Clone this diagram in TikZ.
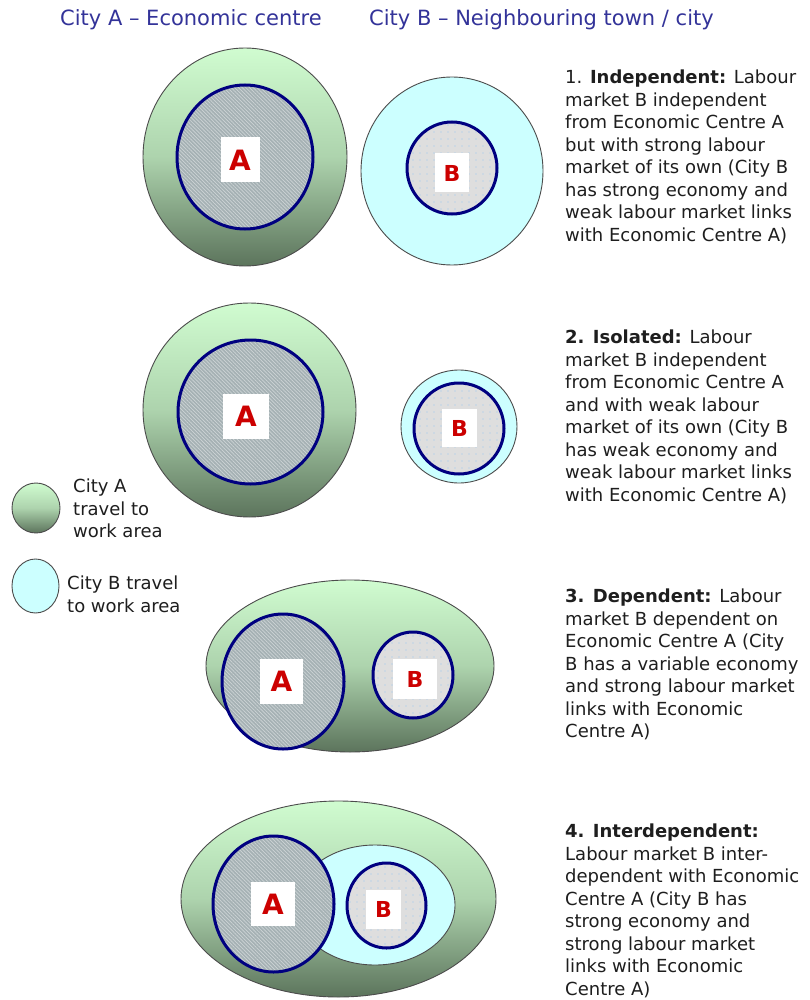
\documentclass[tikz,border=0pt]{standalone}
\usepackage{fontspec}
\setmainfont{DejaVu Sans}
\usetikzlibrary{patterns.meta}
\definecolor{gtop}{RGB}{208,252,208}
\definecolor{gbot}{RGB}{92,116,92}
\definecolor{cyanfill}{RGB}{204,255,255}
\definecolor{navyb}{RGB}{0,0,128}
\definecolor{hatchbg}{RGB}{165,177,180}
\definecolor{dotbg}{RGB}{222,222,222}
\definecolor{dotcol}{RGB}{150,200,240}
\definecolor{hdr}{RGB}{51,51,153}
\definecolor{lblred}{RGB}{204,0,0}
\definecolor{txt}{RGB}{30,30,30}
\tikzset{
  outerA/.style={top color=gtop,bottom color=gbot,middle color=gtop!70!gbot,draw=black!70,line width=0.9pt},
  outerB/.style={fill=cyanfill,draw=black!70,line width=0.9pt},
  coreA/.style={preaction={fill=hatchbg},pattern={Lines[angle=-45,distance=2.6pt,line width=0.7pt]},pattern color=white!45!hatchbg,draw=navyb,line width=3pt},
  coreB/.style={preaction={fill=dotbg},pattern={Dots[radius=0.7pt,distance=7pt]},pattern color=dotcol,draw=navyb,line width=3pt},
  boxA/.style={rectangle,fill=white,inner sep=0pt,text=lblred,font=\fontsize{28}{28}\selectfont\bfseries},
  boxB/.style={rectangle,fill=white,inner sep=0pt,text=lblred,font=\fontsize{22}{22}\selectfont\bfseries},
  desc/.style={anchor=north west,inner sep=0pt,align=left,text=txt,font=\fontsize{18}{22.5}\selectfont},
  hdrtext/.style={anchor=west,inner sep=0pt,text=hdr,font=\fontsize{21}{24}\selectfont},
}
\begin{document}
\begin{tikzpicture}[x=1pt,y=-1pt]
\useasboundingbox[fill=white] (0,0) rectangle (810,1000);

% header
\node[hdrtext] (hA) at (60,20) {City A – Economic centre};
\node[hdrtext] (hB) at (369,20) {City B – Neighbouring town / city};

% panel 1
\path[outerA] (245,157) ellipse [x radius=102pt,y radius=109pt];
\path[coreA] (245,157) ellipse [x radius=68pt,y radius=72pt];
\node[boxA,minimum width=39pt,minimum height=45pt] (a1) at (240,160) {A};
\path[outerB] (452,171) ellipse [x radius=91pt,y radius=94pt];
\path[coreB] (452,168) ellipse [x radius=45pt,y radius=46pt];
\node[boxB,minimum width=34pt,minimum height=39pt] (b1) at (452,173) {B};

% panel 2
\path[outerA] (249.5,410) ellipse [x radius=106.5pt,y radius=107pt];
\path[coreA] (250.5,412) ellipse [x radius=72.5pt,y radius=72pt];
\node[boxA,minimum width=46pt,minimum height=45pt] (a2) at (246,416.5) {A};
\path[outerB] (459,426.5) ellipse [x radius=58pt,y radius=56.5pt];
\path[coreB] (459,428.5) ellipse [x radius=45pt,y radius=45.5pt];
\node[boxB,minimum width=35pt,minimum height=38pt] (b2) at (459.5,428) {B};

% panel 3
\path[outerA] (350,666) ellipse [x radius=144pt,y radius=86pt];
\path[coreA] (283,681.5) ellipse [x radius=61pt,y radius=67.5pt];
\node[boxA,minimum width=43pt,minimum height=45pt] (a3) at (281.5,681.5) {A};
\path[coreB] (413,675) ellipse [x radius=40pt,y radius=43pt];
\node[boxB,minimum width=44pt,minimum height=40pt] (b3) at (415,679) {B};

% panel 4
\path[outerA] (338.5,899) ellipse [x radius=157.5pt,y radius=98pt];
\path[outerB] (375,905) ellipse [x radius=80pt,y radius=60pt];
\path[coreA] (273.5,904) ellipse [x radius=60.5pt,y radius=68pt];
\node[boxA,minimum width=44pt,minimum height=44pt] (a4) at (273,904) {A};
\path[coreB] (386.5,905.5) ellipse [x radius=39.5pt,y radius=42.5pt];
\node[boxB,minimum width=35pt,minimum height=39pt] (b4) at (383.5,909.5) {B};

% legend
\path[outerA] (36,508) ellipse [x radius=24pt,y radius=25pt];
\node[desc] (lA) at (73,479) {City A\\travel to\\work area};
\path[outerB] (35.5,586) ellipse [x radius=23.5pt,y radius=27pt];
\node[desc] (lB) at (67,576) {City B travel\\to work area};

% descriptions
\node[desc] (t1) at (565,70) {1. \textbf{Independent:} Labour\\market B independent\\from Economic Centre A\\but with strong labour\\market of its own (City B\\has strong economy and\\weak labour market links\\with Economic Centre A)};
\node[desc] (t2) at (565,330) {\textbf{2. Isolated:} Labour\\market B independent\\from Economic Centre A\\and with weak labour\\market of its own (City B\\has weak economy and\\weak labour market links\\with Economic Centre A)};
\node[desc] (t3) at (565,589) {\textbf{3. Dependent:} Labour\\market B dependent on\\Economic Centre A (City\\B has a variable economy\\and strong labour market\\links with Economic\\Centre A)};
\node[desc] (t4) at (565,824) {\textbf{4. Interdependent:}\\Labour market B inter-\\dependent with Economic\\Centre A (City B has\\strong economy and\\strong labour market\\links with Economic\\Centre A)};
\end{tikzpicture}
\end{document}
